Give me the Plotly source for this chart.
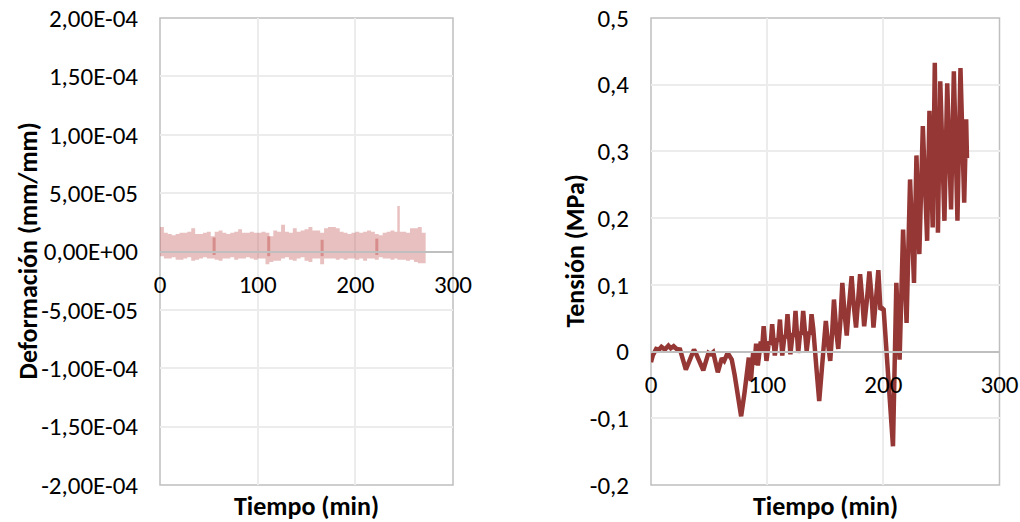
import plotly.graph_objects as go

# ---------------- data ----------------
# Left chart: strain noise band (upper / lower envelope), mm/mm
strain_t = [0, 4, 8, 12, 16, 20, 24, 28, 32, 36, 40, 44, 48, 52, 56, 60, 64, 68,
            72, 76, 80, 84, 88, 92, 96, 100, 104, 108, 112, 116, 120, 124, 128,
            132, 136, 140, 144, 148, 152, 156, 160, 164, 168, 172, 176, 180, 184,
            188, 192, 196, 200, 204, 208, 212, 216, 220, 224, 228, 232, 236, 240,
            243, 245.5, 248, 252, 256, 260, 264, 268, 272]
strain_upper = [2.1e-5, 1.6e-5, 1.5e-5, 1.4e-5, 1.5e-5, 1.6e-5, 1.6e-5, 1.7e-5, 2.0e-5,
                1.5e-5, 1.5e-5, 1.6e-5, 1.7e-5, 1.3e-5, 1.7e-5, 1.8e-5, 1.6e-5, 1.5e-5,
                1.6e-5, 1.7e-5, 1.9e-5, 1.6e-5, 1.6e-5, 1.7e-5, 1.6e-5, 1.6e-5, 1.7e-5,
                1.6e-5, 1.3e-5, 1.8e-5, 1.7e-5, 2.3e-5, 1.7e-5, 1.6e-5, 2.0e-5, 1.7e-5,
                1.8e-5, 1.9e-5, 2.1e-5, 1.8e-5, 1.8e-5, 1.6e-5, 2.0e-5, 2.1e-5, 2.1e-5,
                2.0e-5, 1.7e-5, 1.6e-5, 1.5e-5, 1.6e-5, 1.7e-5, 1.6e-5, 1.7e-5, 1.8e-5,
                1.7e-5, 1.5e-5, 1.4e-5, 1.6e-5, 1.7e-5, 1.8e-5, 1.7e-5,
                3.9e-5, 1.7e-5, 1.7e-5, 1.6e-5, 2.0e-5, 2.0e-5, 2.1e-5, 1.6e-5, 1.3e-5]
strain_lower = [-0.4e-5, -0.6e-5, -0.6e-5, -0.5e-5, -0.7e-5, -0.7e-5, -0.6e-5, -0.5e-5,
                -0.8e-5, -0.7e-5, -0.6e-5, -0.5e-5, -0.6e-5, -0.6e-5, -0.7e-5, -0.8e-5,
                -0.6e-5, -0.6e-5, -0.5e-5, -0.7e-5, -0.6e-5, -0.6e-5, -0.5e-5, -0.6e-5,
                -0.7e-5, -0.6e-5, -0.6e-5, -1.1e-5, -0.9e-5, -0.8e-5, -0.8e-5, -0.6e-5,
                -0.5e-5, -0.7e-5, -0.8e-5, -0.6e-5, -0.5e-5, -0.8e-5, -0.9e-5, -0.6e-5,
                -0.6e-5, -1.1e-5, -0.6e-5, -0.6e-5, -0.6e-5, -0.7e-5, -0.6e-5, -0.7e-5,
                -0.6e-5, -0.6e-5, -0.7e-5, -0.6e-5, -0.8e-5, -0.6e-5, -0.6e-5, -0.7e-5,
                -0.5e-5, -0.6e-5, -0.6e-5, -0.7e-5, -0.6e-5,
                -0.7e-5, -0.7e-5, -0.7e-5, -0.8e-5, -0.7e-5, -0.9e-5, -1.0e-5, -1.0e-5, -0.7e-5]
# darker overlapping strokes inside the band
dark_t = [55.4, 111.3, 166.0, 222.0]
dark_top = [1.2e-5, 1.3e-5, 1.0e-5, 1.1e-5]
dark_bottom = [-0.3e-5, -0.4e-5, -0.4e-5, -0.3e-5]

# Right chart: stress (MPa) vs time (min)
stress_t = [0, 1.5, 4.5, 7, 9, 12, 15, 17, 19.5, 22, 25, 27.5, 30, 33.5, 37, 39, 41, 45,
            49.5, 51.5, 53.5, 57.5, 61, 63, 66, 69.5, 72, 74, 77.6, 80.5, 82.5, 84.2,
            86, 88, 89, 90.5, 92, 94.5, 95.5, 97, 99.4, 101.5, 103, 104.3, 106.6,
            108.5, 109.5, 111, 113, 115, 116, 117.5, 120, 122, 123, 124.4, 126.7,
            128.5, 129.5, 131, 134, 136, 137, 138.2, 139.7, 141, 142.5, 144.8, 146.8,
            148.5, 150.5, 152.5, 154.3, 156, 157.5, 159.5, 161.2, 163, 164.7, 166.5,
            168.5, 170.5, 172.7, 174.5, 176.5, 178, 180, 182, 183.5, 186, 188, 190,
            191.5, 194, 195.7, 197.5, 199, 200.3, 203.2, 206, 208.3, 211.2, 214, 217,
            220, 223, 224.5, 226.4, 228.5, 229.5, 231, 234, 235.5, 237.7, 239.7, 241,
            242.5, 244.3, 245.5, 246.2, 247, 249, 250.5, 252.6, 255, 256.5, 258.3,
            260.7, 262, 263.8, 266.4, 268, 269.6, 271.3, 272]
stress_v = [-0.016, -0.006, 0.004, 0.003, 0.007, 0.003, 0.009, 0.005, 0.008, 0.004, 0.003,
            -0.012, -0.027, -0.012, 0.003, -0.004, -0.012, -0.028, -0.002, -0.004, -0.001,
            -0.031, -0.010, -0.014, -0.002, -0.012, -0.035, -0.057, -0.097, -0.062, -0.032,
            -0.009, -0.044, 0.000, -0.020, 0.012, -0.021, 0.015, 0.000, 0.038, -0.014,
            0.015, 0.010, 0.041, -0.006, 0.020, 0.015, 0.048, -0.006, 0.025, 0.020, 0.056,
            -0.004, 0.028, 0.022, 0.061, -0.002, 0.030, 0.025, 0.061, 0.001, 0.030, 0.025,
            0.056, 0.034, 0.000, -0.027, -0.074, -0.037, -0.005, 0.046, 0.010, -0.014,
            0.030, 0.078, 0.030, 0.004, 0.045, 0.103, 0.060, 0.024, 0.070, 0.113, 0.070,
            0.036, 0.070, 0.116, 0.075, 0.038, 0.080, 0.120, 0.080, 0.036, 0.085, 0.122,
            0.063, 0.065, 0.063, -0.012, -0.082, -0.142, 0.103, -0.012, 0.183, 0.043,
            0.258, 0.180, 0.103, 0.294, 0.220, 0.146, 0.338, 0.250, 0.166, 0.361, 0.280,
            0.186, 0.433, 0.250, 0.330, 0.178, 0.405, 0.290, 0.196, 0.402, 0.300, 0.213,
            0.420, 0.310, 0.196, 0.425, 0.300, 0.223, 0.348, 0.290]

strain_ticks = [-2e-4, -1.5e-4, -1e-4, -5e-5, 0, 5e-5, 1e-4, 1.5e-4, 2e-4]
strain_ticktext = ["-2,00E-04", "-1,50E-04", "-1,00E-04", "-5,00E-05", "0,00E+00",
                   "5,00E-05", "1,00E-04", "1,50E-04", "2,00E-04"]
stress_ticks = [-0.2, -0.1, 0, 0.1, 0.2, 0.3, 0.4, 0.5]
stress_ticktext = ["-0,2", "-0,1", "0", "0,1", "0,2", "0,3", "0,4", "0,5"]
time_ticks = [0, 100, 200, 300]
time_ticktext = ["0", "100", "200", "300"]

# ---------------- layout constants ----------------
W, H = 1020, 522
FONT = "Carlito, Calibri, Lato, sans-serif"
left_dom = [160 / W, 453 / W]
right_dom = [651 / W, 999.5 / W]
y_dom = [1 - 485 / H, 1 - 18 / H]
strain_range = [-2e-4, 2e-4]
stress_range = [-0.2, 0.5]
time_range = [0, 300]
GRID = "#ececec"
AXIS = "#bfbfbf"


def zero_pos(rng):
    return y_dom[0] + (0 - rng[0]) / (rng[1] - rng[0]) * (y_dom[1] - y_dom[0])


fig = go.Figure()

# Left band
fig.add_trace(go.Scatter(x=strain_t, y=strain_lower, mode="lines", line=dict(width=0, shape="hv"),
                         hoverinfo="skip", showlegend=False, xaxis="x", yaxis="y"))
fig.add_trace(go.Scatter(x=strain_t, y=strain_upper, mode="lines", line=dict(width=0, shape="hv"),
                         fill="tonexty", fillcolor="rgba(192,80,77,0.36)",
                         showlegend=False, xaxis="x", yaxis="y"))
dx, dy = [], []
for t, a, b in zip(dark_t, dark_top, dark_bottom):
    dx += [t, t, None]
    dy += [a, b, None]
fig.add_trace(go.Scatter(x=dx, y=dy, mode="lines", line=dict(width=3, color="rgba(192,80,77,0.45)"),
                         showlegend=False, xaxis="x", yaxis="y"))

# Right line
fig.add_trace(go.Scatter(x=stress_t, y=stress_v, mode="lines",
                         line=dict(width=4.5, color="#953735"),
                         showlegend=False, xaxis="x2", yaxis="y2"))

tickfont = dict(family=FONT, size=25, color="#000000")
xcommon = dict(range=time_range, tickvals=time_ticks, ticktext=time_ticktext, showgrid=True,
               gridcolor=GRID, gridwidth=1.5, zeroline=False, showline=True, linecolor=AXIS,
               linewidth=1.5, ticks="", tickfont=tickfont, ticklabelstandoff=11, anchor="free",
               automargin=False)
ycommon = dict(showgrid=True, gridcolor=GRID, gridwidth=1.5, zeroline=False, showline=False,
               ticks="", tickfont=tickfont, ticklabelstandoff=21, domain=y_dom, automargin=False)

fig.update_layout(
    width=W, height=H, margin=dict(l=0, r=0, t=0, b=0, autoexpand=False),
    paper_bgcolor="white", plot_bgcolor="white",
    xaxis=dict(domain=left_dom, position=zero_pos(strain_range), **xcommon),
    yaxis=dict(range=strain_range, tickvals=strain_ticks, ticktext=strain_ticktext,
               anchor="x", **ycommon),
    xaxis2=dict(domain=right_dom, position=zero_pos(stress_range), **xcommon),
    yaxis2=dict(range=stress_range, tickvals=stress_ticks, ticktext=stress_ticktext,
                anchor="x2", **ycommon),
)

# plot-area borders
for xr, yr in [("x domain", "y domain"), ("x2 domain", "y2 domain")]:
    fig.add_shape(type="rect", xref=xr, yref=yr, x0=0, x1=1, y0=0, y1=1,
                  line=dict(color=AXIS, width=1.5), layer="below")

titlefont = dict(family=FONT, size=26, color="#000000")
common_ann = dict(xref="paper", yref="paper", showarrow=False, font=titlefont,
                  xanchor="center", yanchor="middle")
fig.add_annotation(text="<b>Tiempo (min)</b>", x=sum(left_dom) / 2, y=1 - 506 / H, **common_ann)
fig.add_annotation(text="<b>Tiempo (min)</b>", x=sum(right_dom) / 2, y=1 - 506 / H, **common_ann)
fig.add_annotation(text="<b>Deformación (mm/mm)</b>", x=28 / W, y=sum(y_dom) / 2,
                   textangle=-90, **common_ann)
fig.add_annotation(text="<b>Tensión (MPa)</b>", x=575 / W, y=sum(y_dom) / 2,
                   textangle=-90, **common_ann)

fig.write_html("out.html")
